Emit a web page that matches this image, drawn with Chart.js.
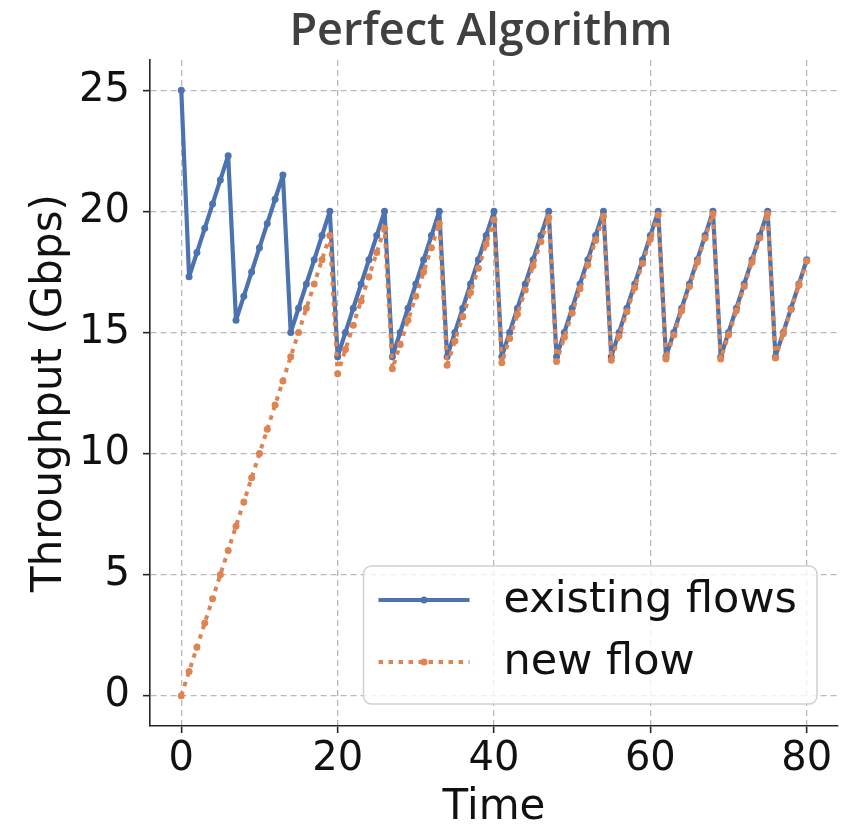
<!DOCTYPE html>
<html>
<head>
<meta charset="utf-8">
<script src="https://cdn.jsdelivr.net/npm/chart.js@4.4.1/dist/chart.umd.min.js"></script>
<style>
  html, body { margin: 0; padding: 0; background: #ffffff; }
  canvas { display: block; }
</style>
</head>
<body>
<canvas id="c" width="854" height="830"></canvas>
<script>
// ---- data ----
const time = [0,1,2,3,4,5,6,7,8,9,10,11,12,13,14,15,16,17,18,19,20,21,22,23,24,25,26,27,28,29,30,31,32,33,34,35,36,37,38,39,40,41,42,43,44,45,46,47,48,49,50,51,52,53,54,55,56,57,58,59,60,61,62,63,64,65,66,67,68,69,70,71,72,73,74,75,76,77,78,79,80];

const existingFlows = [
  25,
  17.3, 18.3, 19.3, 20.3, 21.3, 22.3,
  15.5, 16.5, 17.5, 18.5, 19.5, 20.5, 21.5,
  15.0, 16.0, 17.0, 18.0, 19.0, 20.0,
  14.0, 15.0, 16.0, 17.0, 18.0, 19.0, 20.0,
  14.0, 15.0, 16.0, 17.0, 18.0, 19.0, 20.0,
  14.0, 15.0, 16.0, 17.0, 18.0, 19.0, 20.0,
  14.0, 15.0, 16.0, 17.0, 18.0, 19.0, 20.0,
  14.0, 15.0, 16.0, 17.0, 18.0, 19.0, 20.0,
  14.0, 15.0, 16.0, 17.0, 18.0, 19.0, 20.0,
  14.0, 15.0, 16.0, 17.0, 18.0, 19.0, 20.0,
  14.0, 15.0, 16.0, 17.0, 18.0, 19.0, 20.0,
  14.0, 15.0, 16.0, 17.0, 18.0
];

const newFlow = [
  0, 1, 2, 3, 4, 5, 6, 7, 8, 9, 10, 11, 12, 13, 14, 15, 16, 17, 18, 19,
  13.3, 14.3, 15.3, 16.3, 17.3, 18.3, 19.3,
  13.5, 14.5, 15.5, 16.5, 17.5, 18.5, 19.5,
  13.65, 14.65, 15.65, 16.65, 17.65, 18.65, 19.65,
  13.75, 14.75, 15.75, 16.75, 17.75, 18.75, 19.75,
  13.8, 14.8, 15.8, 16.8, 17.8, 18.8, 19.8,
  13.85, 14.85, 15.85, 16.85, 17.85, 18.85, 19.85,
  13.9, 14.9, 15.9, 16.9, 17.9, 18.9, 19.9,
  13.9, 14.9, 15.9, 16.9, 17.9, 18.9, 19.9,
  13.95, 14.95, 15.95, 16.95, 17.95
];

const seriesLabels = ['existing flows', 'new flow'];
const xTicks = [0, 20, 40, 60, 80];
const yTicks = [0, 5, 10, 15, 20, 25];
const chartTitle = 'Perfect Algorithm';
const xTitle = 'Time';
const yTitle = 'Throughput (Gbps)';

// ---- styles ----
const BLUE = '#4c72b0';
const ORANGE = '#dd8452';
const GRID = '#b9b9b9';
const AXIS = '#262626';
const FONT = "'DejaVu Sans', sans-serif";

// title drawn over the plot area
const plotTitle = {
  id: 'plotTitle',
  afterDraw(chart) {
    const ctx = chart.ctx;
    const area = chart.chartArea;
    ctx.save();
    ctx.font = "600 45px 'Open Sans', 'Noto Sans', sans-serif";
    ctx.fillStyle = '#404040';
    ctx.textAlign = 'center';
    ctx.textBaseline = 'alphabetic';
    const cx = area.left + (area.right - area.left) * 0.481;
    ctx.fillText(chartTitle, cx, 45);
    ctx.restore();
  }
};

// legend drawn inside plot area (lower right)
const innerLegend = {
  id: 'innerLegend',
  afterDatasetsDraw(chart) {
    const ctx = chart.ctx;
    const area = chart.chartArea;
    const fontSize = 43;
    ctx.save();
    ctx.font = fontSize + "px " + FONT;
    const padL = 15, sample = 91, gap = 34, padR = 20;
    const dsets = chart.data.datasets;
    let maxW = 0;
    dsets.forEach(d => { maxW = Math.max(maxW, ctx.measureText(d.label).width); });
    const w = padL + sample + gap + maxW + padR;
    const h = 138;
    const right = area.right - 21;
    const bottom = area.bottom - 22;
    const left = right - w, top = bottom - h;
    ctx.beginPath();
    ctx.roundRect(left, top, w, h, 8);
    ctx.fillStyle = 'rgba(255,255,255,0.8)';
    ctx.fill();
    ctx.lineWidth = 1.5;
    ctx.strokeStyle = '#d0d0d0';
    ctx.stroke();
    const rows = [top + 34, top + 96];
    dsets.forEach((d, i) => {
      const y = rows[i];
      ctx.save();
      ctx.strokeStyle = d.borderColor;
      ctx.lineWidth = d.borderWidth;
      ctx.lineCap = 'butt';
      ctx.setLineDash(d.borderDash || []);
      ctx.beginPath();
      ctx.moveTo(left + padL, y);
      ctx.lineTo(left + padL + sample, y);
      ctx.stroke();
      ctx.setLineDash([]);
      ctx.fillStyle = d.borderColor;
      ctx.beginPath();
      ctx.arc(left + padL + sample / 2, y, d.pointRadius, 0, Math.PI * 2);
      ctx.fill();
      ctx.restore();
      ctx.fillStyle = '#111111';
      ctx.textAlign = 'left';
      ctx.textBaseline = 'middle';
      ctx.fillText(d.label, left + padL + sample + gap, y + 1);
    });
    ctx.restore();
  }
};

const ctx = document.getElementById('c').getContext('2d');
new Chart(ctx, {
  type: 'line',
  data: {
    labels: time,
    datasets: [
      {
        label: seriesLabels[0],
        data: existingFlows,
        borderColor: BLUE,
        backgroundColor: BLUE,
        pointBackgroundColor: BLUE,
        borderWidth: 4.2,
        borderJoinStyle: 'round',
        pointRadius: 3.5,
        pointBorderWidth: 0,
        tension: 0,
        order: 1
      },
      {
        label: seriesLabels[1],
        data: newFlow,
        borderColor: ORANGE,
        backgroundColor: ORANGE,
        pointBackgroundColor: ORANGE,
        borderWidth: 4,
        borderDash: [4.5, 5.5],
        borderCapStyle: 'butt',
        borderJoinStyle: 'round',
        pointRadius: 3.5,
        pointBorderWidth: 0,
        tension: 0,
        order: 0
      }
    ]
  },
  options: {
    responsive: false,
    animation: false,
    events: [],
    layout: { padding: { left: 0, right: 16, top: 60, bottom: 0 } },
    plugins: {
      legend: { display: false },
      tooltip: { enabled: false },
      title: { display: false }
    },
    scales: {
      x: {
        type: 'linear',
        min: -4,
        max: 84,
        afterBuildTicks: s => { s.ticks = xTicks.map(v => ({ value: v })); },
        afterFit: s => { s.height = 104; },
        grid: { color: GRID, lineWidth: 1.3, tickColor: AXIS, tickWidth: 1.6, tickLength: 7, drawTicks: true },
        border: { display: true, color: AXIS, width: 1.6, dash: [6, 4] },
        ticks: {
          color: '#111111',
          font: { family: FONT, size: 40, lineHeight: 1.2 },
          padding: 3,
          maxRotation: 0,
          autoSkip: false,
          callback: v => String(v)
        },
        title: {
          display: true,
          text: xTitle,
          color: '#111111',
          font: { family: FONT, size: 42, lineHeight: 1 },
          padding: { top: 0, bottom: 1 }
        }
      },
      y: {
        type: 'linear',
        min: -1.25,
        max: 26.25,
        afterBuildTicks: s => { s.ticks = yTicks.map(v => ({ value: v })); },
        afterFit: s => { s.width = 150; },
        grid: { color: GRID, lineWidth: 1.3, tickColor: AXIS, tickWidth: 1.6, tickLength: 7, drawTicks: true },
        border: { display: true, color: AXIS, width: 1.6, dash: [6, 4] },
        ticks: {
          color: '#111111',
          font: { family: FONT, size: 40, lineHeight: 1.2 },
          padding: 13,
          autoSkip: false,
          callback: v => String(v)
        },
        title: {
          display: true,
          text: yTitle,
          color: '#111111',
          font: { family: FONT, size: 42, lineHeight: 1 },
          padding: { top: 29, bottom: 0 }
        }
      }
    }
  },
  plugins: [innerLegend, plotTitle]
});
</script>
</body>
</html>
